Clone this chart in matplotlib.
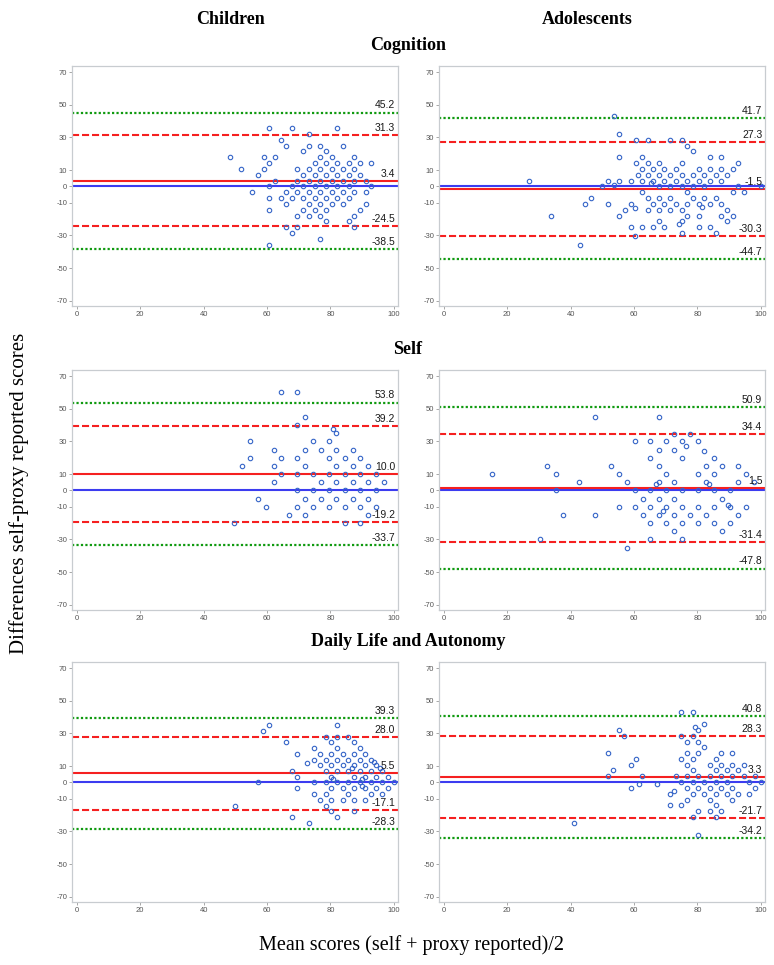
"""Bland-Altman plots: self vs proxy reported scores, children and adolescents,
for Cognition, Self and Daily Life and Autonomy."""

import matplotlib
matplotlib.use("Agg")
import matplotlib.pyplot as plt

plt.rcParams["axes.unicode_minus"] = False

COLUMNS = ["Children", "Adolescents"]
DOMAINS = ["Cognition", "Self", "Daily Life and Autonomy"]

# reference lines per panel: upper outer, upper LoA, mean diff, lower LoA, lower outer
LINES = {
    ("Cognition", "Children"): [45.2, 31.3, 3.4, -24.5, -38.5],
    ("Cognition", "Adolescents"): [41.7, 27.3, -1.5, -30.3, -44.7],
    ("Self", "Children"): [53.8, 39.2, 10.0, -19.2, -33.7],
    ("Self", "Adolescents"): [50.9, 34.4, 1.5, -31.4, -47.8],
    ("Daily Life and Autonomy", "Children"): [39.3, 28.0, 5.5, -17.1, -28.3],
    ("Daily Life and Autonomy", "Adolescents"): [40.8, 28.3, 3.3, -21.7, -34.2],
}

# scatter points (mean score, difference)
cog_child = [
    (60.7, 35.7), (67.9, 35.7), (82.1, 35.7),
    (73.2, 32.1), (64.3, 28.6),
    (66.1, 25.0), (73.2, 25.0), (76.8, 25.0), (83.9, 25.0),
    (71.4, 21.4), (78.6, 21.4),
    (48.2, 17.9), (58.9, 17.9), (62.5, 17.9), (76.8, 17.9), (80.4, 17.9), (87.5, 17.9),
    (60.7, 14.3), (75.0, 14.3), (78.6, 14.3), (82.1, 14.3), (85.7, 14.3), (89.3, 14.3), (92.9, 14.3),
    (51.8, 10.7), (58.9, 10.7), (69.6, 10.7), (73.2, 10.7), (76.8, 10.7), (80.4, 10.7), (83.9, 10.7), (87.5, 10.7),
    (57.1, 7.1), (71.4, 7.1), (75.0, 7.1), (78.6, 7.1), (82.1, 7.1), (85.7, 7.1), (89.3, 7.1),
    (62.5, 3.6), (69.6, 3.6), (73.2, 3.6), (76.8, 3.6), (80.4, 3.6), (83.9, 3.6), (87.5, 3.6), (91.1, 3.6),
    (60.7, 0.0), (67.9, 0.0), (71.4, 0.0), (75.0, 0.0), (78.6, 0.0), (82.1, 0.0), (85.7, 0.0), (92.9, 0.0),
    (55.4, -3.6), (66.1, -3.6), (69.6, -3.6), (73.2, -3.6), (76.8, -3.6), (80.4, -3.6), (83.9, -3.6),
    (87.5, -3.6), (91.1, -3.6),
    (60.7, -7.1), (64.3, -7.1), (67.9, -7.1), (71.4, -7.1), (75.0, -7.1), (78.6, -7.1), (82.1, -7.1), (85.7, -7.1),
    (66.1, -10.7), (73.2, -10.7), (76.8, -10.7), (80.4, -10.7), (83.9, -10.7), (91.1, -10.7),
    (60.7, -14.3), (71.4, -14.3), (75.0, -14.3), (78.6, -14.3), (89.3, -14.3),
    (69.6, -17.9), (73.2, -17.9), (76.8, -17.9), (87.5, -17.9),
    (78.6, -21.4), (85.7, -21.4),
    (66.1, -25.0), (69.6, -25.0), (87.5, -25.0),
    (67.9, -28.6), (76.8, -32.1), (60.7, -35.7),
]

cog_adol = [
    (53.6, 42.9), (55.4, 32.1),
    (60.7, 28.6), (64.3, 28.6), (71.4, 28.6), (75.0, 28.6),
    (76.8, 25.0), (78.6, 21.4),
    (55.4, 17.9), (62.5, 17.9), (83.9, 17.9), (87.5, 17.9),
    (60.7, 14.3), (64.3, 14.3), (67.9, 14.3), (75.0, 14.3), (92.9, 14.3),
    (62.5, 10.7), (66.1, 10.7), (69.6, 10.7), (73.2, 10.7), (80.4, 10.7), (83.9, 10.7), (87.5, 10.7), (91.1, 10.7),
    (61.4, 7.1), (64.3, 7.1), (67.9, 7.1), (71.4, 7.1), (75.0, 7.1), (78.6, 7.1), (82.1, 7.1), (86.0, 7.1),
    (89.3, 7.1),
    (26.8, 3.6), (51.8, 3.6), (55.4, 3.6), (58.9, 3.6), (62.5, 3.6), (66.1, 3.6), (69.6, 3.6), (73.2, 3.6),
    (76.8, 3.6), (80.4, 3.6), (83.9, 3.6), (87.5, 3.6), (65.5, 2.0),
    (50.0, 0.0), (53.6, 0.8), (67.9, 0.0), (71.4, 0.0), (75.0, 0.0), (78.6, 0.0), (82.1, 0.0), (92.9, 0.0),
    (100.0, 0.0),
    (62.5, -3.6), (76.8, -3.6), (91.1, -3.6), (94.6, -3.6),
    (46.4, -7.1), (64.3, -7.1), (67.9, -7.1), (71.4, -7.1), (78.6, -7.1), (82.1, -7.1), (85.7, -7.1),
    (44.6, -10.7), (51.8, -10.7), (58.9, -10.7), (66.1, -10.7), (69.6, -10.7), (73.2, -10.7), (76.8, -10.7),
    (80.4, -10.7), (83.9, -10.7), (87.5, -10.7), (81.3, -12.5),
    (57.1, -14.3), (60.3, -13.5), (64.3, -14.3), (67.9, -14.3), (71.4, -14.3), (75.0, -14.3), (89.3, -14.3),
    (33.9, -17.9), (55.4, -17.9), (76.8, -17.9), (80.4, -17.9), (87.5, -17.9), (91.1, -17.9),
    (67.9, -21.4), (75.0, -21.4), (89.3, -21.4), (74.3, -23.0),
    (58.9, -25.0), (62.5, -25.0), (66.1, -25.0), (69.6, -25.0), (80.4, -25.0), (83.9, -25.0),
    (75.0, -28.6), (85.7, -28.6), (60.3, -30.3), (42.9, -35.7),
]

self_child = [
    (64.5, 60), (69.5, 60), (72.1, 45), (69.5, 40), (80.7, 37.7), (81.9, 35),
    (54.6, 30), (74.5, 30), (79.5, 30),
    (62.1, 25), (72.1, 25), (77.0, 25), (81.9, 25), (87.0, 25),
    (54.6, 20), (64.5, 20), (69.5, 20), (79.5, 20), (84.5, 20), (89.4, 20),
    (52.2, 15), (62.1, 15), (72.1, 15), (81.9, 15), (87.0, 15), (91.9, 15),
    (64.5, 10), (69.5, 10), (74.5, 10), (79.5, 10), (84.5, 10), (89.4, 10), (94.3, 10),
    (62.1, 5), (77.0, 5), (81.9, 5), (87.0, 5), (91.9, 5), (96.8, 5),
    (69.5, 0), (74.5, 0), (79.5, 0), (84.5, 0), (89.4, 0), (94.3, 0),
    (57.1, -5), (72.1, -5), (77.0, -5), (81.9, -5), (87.0, -5), (91.9, -5),
    (59.6, -10), (69.5, -10), (74.5, -10), (79.5, -10), (84.5, -10), (89.4, -10), (94.3, -10),
    (67.0, -15), (72.1, -15), (91.9, -15),
    (49.7, -20), (84.5, -20), (89.4, -20),
]

self_adol = [
    (47.6, 45), (67.8, 45), (72.7, 34.7), (77.8, 34.7),
    (60.3, 30), (65.1, 30), (70.2, 30), (75.2, 30), (80.3, 30), (76.4, 27.3),
    (67.8, 25), (72.7, 25), (82.2, 24),
    (65.1, 20), (75.2, 20), (85.2, 20),
    (32.7, 15), (52.8, 15), (67.8, 15), (82.7, 15), (87.7, 15), (92.7, 15),
    (15.2, 10), (35.3, 10), (55.2, 10), (70.2, 10), (80.3, 10), (85.2, 10), (95.3, 10),
    (42.7, 5), (57.9, 5), (67.8, 5), (72.7, 5), (82.7, 5), (92.7, 5), (97.7, 5), (66.9, 4), (83.5, 4),
    (35.3, 0), (60.3, 0), (65.1, 0), (70.2, 0), (75.2, 0), (80.3, 0), (85.2, 0), (90.3, 0),
    (62.7, -5), (67.8, -5), (72.7, -5), (87.7, -5), (89.6, -9),
    (55.2, -10), (60.3, -10), (65.1, -10), (70.2, -10), (75.2, -10), (80.3, -10), (85.2, -10), (90.3, -10),
    (95.3, -10), (69.0, -12.4),
    (37.7, -15), (47.6, -15), (62.7, -15), (67.8, -15), (72.7, -15), (77.8, -15), (82.7, -15), (92.7, -15),
    (65.1, -20), (70.2, -20), (75.2, -20), (80.3, -20), (85.2, -20), (90.3, -20),
    (72.7, -25), (87.7, -25),
    (30.3, -30), (65.1, -30), (75.2, -30), (57.9, -35),
]

daily_child = [
    (60.6, 35.2), (82.0, 35.2), (58.8, 31.6),
    (78.5, 28.0), (82.0, 28.0), (85.6, 28.0),
    (66.0, 24.5), (80.3, 24.5), (87.4, 24.5),
    (74.9, 21.0), (82.0, 21.0), (89.2, 21.0),
    (69.5, 17.5), (76.7, 17.5), (80.3, 17.5), (83.8, 17.5), (87.4, 17.5), (91.0, 17.5),
    (74.9, 14.0), (78.5, 14.0), (82.0, 14.0), (85.6, 14.0), (89.2, 14.0), (92.8, 14.0),
    (93.7, 12.4), (72.7, 11.6),
    (76.7, 10.6), (80.3, 10.6), (83.8, 10.6), (87.4, 10.6), (91.0, 10.6), (94.5, 10.6),
    (86.7, 9.0), (95.6, 9.0),
    (67.8, 7.0), (78.5, 7.0), (82.0, 7.0), (85.6, 7.0), (89.2, 7.0), (92.8, 7.0), (96.3, 7.0),
    (69.5, 3.5), (80.3, 3.5), (87.4, 3.5), (91.0, 3.5), (94.5, 3.5), (98.0, 3.5),
    (80.9, 2.0), (90.0, 2.0),
    (57.1, 0), (74.9, 0), (78.5, 0), (82.0, 0), (85.6, 0), (89.2, 0), (92.8, 0), (96.3, 0), (99.9, 0),
    (90.0, -2.3),
    (69.5, -3.5), (80.3, -3.5), (83.8, -3.5), (87.4, -3.5), (91.0, -3.5), (94.5, -3.5), (98.0, -3.5),
    (74.9, -7.2), (78.5, -7.2), (85.6, -7.2), (92.8, -7.2), (96.3, -7.2),
    (76.7, -10.6), (80.3, -10.6), (83.8, -10.6), (87.4, -10.6), (91.0, -10.6),
    (50.0, -14.2), (78.5, -14.2), (80.3, -17.7), (87.4, -17.7),
    (67.8, -21.3), (82.0, -21.3), (73.1, -24.9),
]

daily_adol = [
    (74.9, 43.2), (78.5, 43.2), (82.1, 35.6), (79.3, 33.8), (80.3, 32.2), (55.3, 32.2),
    (56.9, 28.5), (74.9, 28.5), (78.5, 28.5), (76.7, 25.0), (80.3, 25.0), (82.1, 21.6),
    (51.8, 17.9), (76.7, 17.9), (80.3, 17.9), (87.5, 17.9), (91.0, 17.9),
    (60.7, 14.5), (74.9, 14.5), (78.5, 14.5), (85.7, 14.5),
    (58.9, 10.8), (76.7, 10.8), (83.9, 10.8), (87.5, 10.8), (91.0, 10.8), (94.6, 10.8),
    (53.5, 7.3), (78.5, 7.3), (85.7, 7.3), (89.3, 7.3), (92.8, 7.3),
    (51.8, 3.7), (62.5, 3.7), (73.2, 3.7), (76.7, 3.7), (80.3, 3.7), (83.9, 3.7), (87.5, 3.7), (91.0, 3.7),
    (94.6, 3.7), (98.2, 3.7),
    (74.9, 0), (78.5, 0), (82.1, 0), (85.7, 0), (89.3, 0), (96.4, 0), (100.0, 0),
    (61.5, -1.2), (67.3, -1.2),
    (58.9, -3.5), (76.7, -3.5), (80.3, -3.5), (83.9, -3.5), (87.5, -3.5), (91.0, -3.5), (98.2, -3.5),
    (72.5, -5.0),
    (71.3, -6.9), (78.5, -6.9), (82.1, -6.9), (85.7, -6.9), (89.3, -6.9), (92.8, -6.9), (96.4, -6.9),
    (76.7, -10.6), (83.9, -10.6), (91.0, -10.6),
    (71.3, -14.0), (74.9, -14.0), (85.7, -14.0),
    (80.3, -17.7), (83.9, -17.7), (87.5, -17.7),
    (78.5, -21.2), (85.7, -21.2), (41.1, -24.8), (80.3, -32.4),
]

POINTS = {
    ("Cognition", "Children"): cog_child,
    ("Cognition", "Adolescents"): cog_adol,
    ("Self", "Children"): self_child,
    ("Self", "Adolescents"): self_adol,
    ("Daily Life and Autonomy", "Children"): daily_child,
    ("Daily Life and Autonomy", "Adolescents"): daily_adol,
}

YTICKS = [70, 50, 30, 10, 0, -10, -30, -50, -70]
XTICKS = [0, 20, 40, 60, 80, 100]

W, H = 774, 965
COL_LEFT = [72, 439]
COL_W = 326
ROW_TOP = [66, 370, 662]
ROW_H = 240
TITLE_Y = [50, 354, 646]
SERIF = "Liberation Serif"


def draw_panel(ax, pts, lines):
    outer_hi, loa_hi, mean, loa_lo, outer_lo = lines
    ax.axhline(0, color="#3c3cf0", lw=1.5, zorder=2)
    ax.axhline(mean, color="#f52020", lw=1.5, zorder=2)
    for v in (loa_hi, loa_lo):
        ax.axhline(v, color="#f52020", lw=1.5, ls=(0, (3.4, 1.4)), zorder=2)
    for v in (outer_hi, outer_lo):
        ax.axhline(v, color="#109a10", lw=1.6, ls=(0, (1, 1)), zorder=2)
    for v in lines:
        ax.annotate(f"{v:.1f}", xy=(1.0, v), xycoords=("axes fraction", "data"),
                    xytext=(-2, 1.5), textcoords="offset points", ha="right", va="bottom",
                    fontsize=7.5, color="#1a1a1a", family="Liberation Sans", zorder=4)
    xs = [p[0] for p in pts]
    ys = [p[1] for p in pts]
    ax.plot(xs, ys, "o", ms=3.2, mfc="none", mec="#3565c8", mew=0.8, zorder=3)

    ax.set_xlim(-1.5, 101.3)
    ax.set_ylim(-73.2, 73.7)
    ax.set_xticks(XTICKS)
    ax.set_yticks(YTICKS)
    ax.tick_params(labelsize=5.5, labelcolor="#555555", color="#999999", length=2, width=0.6, pad=1.5)
    for lab in ax.get_xticklabels() + ax.get_yticklabels():
        lab.set_family("Liberation Sans")
    for s in ax.spines.values():
        s.set_color("#c8ccd0")
        s.set_linewidth(0.9)


def main():
    fig = plt.figure(figsize=(W / 100, H / 100), dpi=100)

    for r, dom in enumerate(DOMAINS):
        for c, grp in enumerate(COLUMNS):
            ax = fig.add_axes([COL_LEFT[c] / W, 1 - (ROW_TOP[r] + ROW_H) / H, COL_W / W, ROW_H / H])
            draw_panel(ax, POINTS[(dom, grp)], LINES[(dom, grp)])
        fig.text(408 / W, 1 - TITLE_Y[r] / H, dom, ha="center", va="baseline",
                 fontsize=13, fontweight="bold", family=SERIF)

    fig.text(231 / W, 1 - 24 / H, "Children", ha="center", va="baseline",
             fontsize=13, fontweight="bold", family=SERIF)
    fig.text(587 / W, 1 - 24 / H, "Adolescents", ha="center", va="baseline",
             fontsize=13, fontweight="bold", family=SERIF)

    fig.text(19 / W, 1 - 493 / H, "Differences self-proxy reported scores", rotation=90,
             ha="center", va="center", fontsize=15, family=SERIF)
    fig.text(411 / W, 1 - 945 / H, "Mean scores (self + proxy reported)/2",
             ha="center", va="center", fontsize=14.5, family=SERIF)

    fig.savefig("out.png", dpi=100)
    plt.close(fig)


if __name__ == "__main__":
    main()
